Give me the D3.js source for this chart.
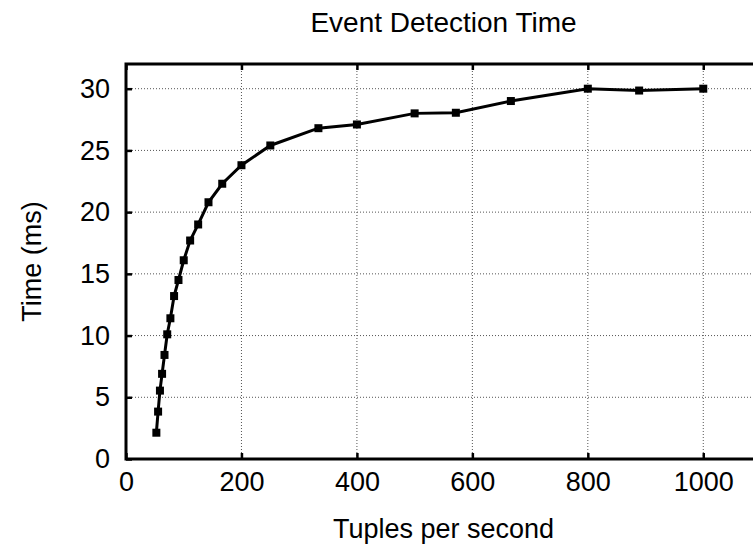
<!DOCTYPE html>
<html>
<head>
<meta charset="utf-8">
<script src="https://cdn.jsdelivr.net/npm/d3@7"></script>
<style>
  body { margin: 0; background: #fff; }
  text { font-family: "Liberation Sans", Arial, sans-serif; fill: #000; }
</style>
</head>
<body>
<div id="chart"></div>
<script>
// tuples per second and detection time (ms)
var tuples = [52.6, 55.6, 58.8, 62.5, 66.7, 71.4, 76.9, 83.3, 90.9, 100, 111.1, 125,
              142.9, 166.7, 200, 250, 333.3, 400, 500, 571.4, 666.7, 800, 888.9, 1000];
var times = [2.13, 3.84, 5.54, 6.9, 8.43, 10.1, 11.4, 13.2, 14.5, 16.1, 17.7, 19.0,
             20.8, 22.3, 23.8, 25.4, 26.8, 27.1, 28.0, 28.05, 29.0, 30.0, 29.85, 30.0];
var xTicks = [0, 200, 400, 600, 800, 1000];
var yTicks = [0, 5, 10, 15, 20, 25, 30];

function init() {
	var w = 753;
	var h = 547;
	var left = 126, top = 64, bottom = 459, right = 761;
	var mid = (left + right) / 2;

	var dataset = tuples.map(function(d, i) { return { x: d, y: times[i] }; });

	var xScale = d3.scaleLinear().domain([0, 1100]).range([left, right]);
	var yScale = d3.scaleLinear().domain([0, 32]).range([bottom, top]);

	var svg = d3.select("#chart")
		.append("svg")
		.attr("width", w)
		.attr("height", h);

	// grid
	svg.append("g")
		.selectAll("line")
		.data(xTicks.slice(1))
		.enter()
		.append("line")
		.attr("x1", function(d) { return xScale(d); })
		.attr("x2", function(d) { return xScale(d); })
		.attr("y1", bottom)
		.attr("y2", top)
		.attr("stroke", "#555")
		.attr("stroke-width", 1)
		.attr("stroke-dasharray", "1,2");

	svg.append("g")
		.selectAll("line")
		.data(yTicks.slice(1))
		.enter()
		.append("line")
		.attr("x1", left)
		.attr("x2", right)
		.attr("y1", function(d) { return yScale(d); })
		.attr("y2", function(d) { return yScale(d); })
		.attr("stroke", "#555")
		.attr("stroke-width", 1)
		.attr("stroke-dasharray", "1,2");

	// axes (ticks pointing inward)
	var xAxis = d3.axisBottom(xScale).tickValues(xTicks).tickFormat(d3.format("d"))
		.tickSizeInner(-6).tickSizeOuter(0).tickPadding(13);
	var yAxis = d3.axisLeft(yScale).tickValues(yTicks).tickFormat(d3.format("d"))
		.tickSizeInner(-6).tickSizeOuter(0).tickPadding(16);
	var xTop = d3.axisTop(xScale).tickValues(xTicks).tickSizeInner(-6).tickSizeOuter(0).tickFormat("");

	var gx = svg.append("g").attr("transform", "translate(0," + bottom + ")").call(xAxis);
	var gy = svg.append("g").attr("transform", "translate(" + left + ",0)").call(yAxis);
	var gt = svg.append("g").attr("transform", "translate(0," + top + ")").call(xTop);

	[gx, gy, gt].forEach(function(g) {
		g.select(".domain").remove();
		g.selectAll(".tick line").attr("stroke", "#000").attr("stroke-width", 2.5);
		g.selectAll(".tick text").style("font-size", "27px").style("font-family", "Liberation Sans, Arial, sans-serif");
	});

	// frame
	svg.append("rect")
		.attr("x", left)
		.attr("y", top)
		.attr("width", right - left)
		.attr("height", bottom - top)
		.attr("fill", "none")
		.attr("stroke", "#000")
		.attr("stroke-width", 3);

	var line = d3.line()
		.x(function(d) { return xScale(d.x); })
		.y(function(d) { return yScale(d.y); });

	svg.append("path")
		.datum(dataset)
		.attr("d", line)
		.attr("fill", "none")
		.attr("stroke", "#000")
		.attr("stroke-width", 3);

	svg.selectAll("rect.pt")
		.data(dataset)
		.enter()
		.append("rect")
		.attr("class", "pt")
		.attr("x", function(d) { return xScale(d.x) - 4; })
		.attr("y", function(d) { return yScale(d.y) - 4; })
		.attr("width", 8)
		.attr("height", 8)
		.attr("fill", "#000");

	// labels
	svg.append("text")
		.attr("x", mid)
		.attr("y", 32)
		.attr("text-anchor", "middle")
		.style("font-size", "28px")
		.text("Event Detection Time");

	svg.append("text")
		.attr("x", mid)
		.attr("y", 538)
		.attr("text-anchor", "middle")
		.style("font-size", "27px")
		.text("Tuples per second");

	svg.append("text")
		.attr("transform", "translate(41," + yScale(16) + ") rotate(-90)")
		.attr("text-anchor", "middle")
		.style("font-size", "27px")
		.text("Time (ms)");
}

window.onload = init;
</script>
</body>
</html>
